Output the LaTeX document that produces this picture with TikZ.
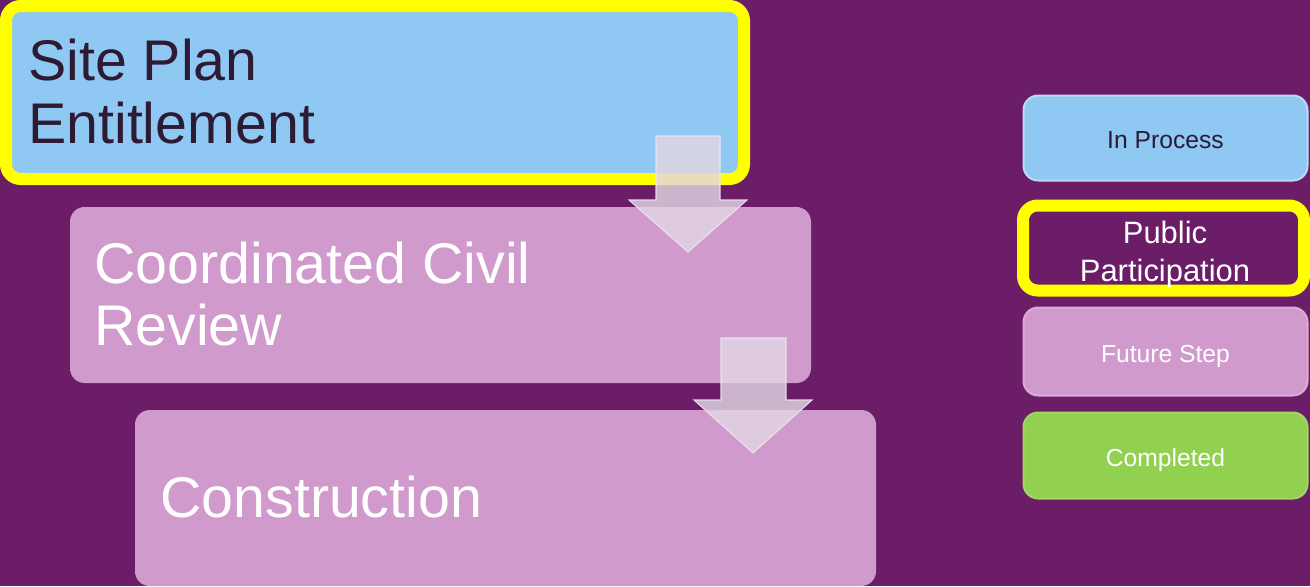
\documentclass[tikz,border=0pt]{standalone}
\usepackage{fontspec}
\setmainfont{Liberation Sans}
\definecolor{bgpurple}{HTML}{6B1D68}
\definecolor{stepblue}{HTML}{90C8F4}
\definecolor{stepblueline}{HTML}{B8DCF7}
\definecolor{steppink}{HTML}{D09ACD}
\definecolor{steppinkline}{HTML}{D9ABD6}
\definecolor{stepgreen}{HTML}{92D050}
\definecolor{stepgreenline}{HTML}{9FD862}
\definecolor{hiyellow}{HTML}{FFFF00}
\definecolor{darktext}{HTML}{2D1A33}
\definecolor{arrowfill}{HTML}{E2D6E4}
\definecolor{arrowline}{HTML}{EEE6EF}
\newcommand\upx{0.75pt}
\begin{document}
\begin{tikzpicture}[x=0.75pt,y=-0.75pt,
  box/.style={inner sep=0pt, outer sep=0pt, rounded corners=11pt},
  bigtext/.style={inner sep=0pt, anchor=base west, font=\fontsize{43}{47}\selectfont},
  legtext/.style={inner sep=0pt, font=\fontsize{18.5}{22}\selectfont},
  blockarrow/.style={fill=arrowfill, fill opacity=0.82, draw=arrowline, draw opacity=0.9, line width=0.8pt}
]
\useasboundingbox (0,0) rectangle (1310,586);
\fill[bgpurple] (0,0) rectangle (1310,586);

% main steps
\node[box, fill=stepblue, draw=hiyellow, line width=9pt,
      minimum width=738*\upx, minimum height=173*\upx] (site) at (375,92.5) {};
\node[box, fill=steppink, minimum width=741*\upx, minimum height=176*\upx] (civil) at (440.5,295) {};
\node[box, fill=steppink, minimum width=741*\upx, minimum height=176*\upx] (constr) at (505.5,498) {};

\node[bigtext, text=darktext] (sitea) at (28,80) {Site Plan};
\node[bigtext, text=darktext] (siteb) at (28,143) {Entitlement};
\node[bigtext, text=white] (civila) at (94,283) {Coordinated Civil};
\node[bigtext, text=white] (civilb) at (94,345) {Review};
\node[bigtext, text=white] (constra) at (160,517) {Construction};

% block arrows between steps
\path[blockarrow] (656,136) -- (720,136) -- (720,200) -- (747,200) -- (688,252)
   -- (629,200) -- (656,200) -- cycle;
\path[blockarrow] (721,338) -- (786,338) -- (786,400) -- (812,400) -- (753,453)
   -- (694,400) -- (721,400) -- cycle;

% legend
\node[box, fill=stepblue, draw=stepblueline, line width=1.5pt,
      minimum width=284*\upx, minimum height=85*\upx] (inproc) at (1165.5,138) {};
\node[legtext, text=darktext] (inproct) at (1165.5,140) {In Process};

\node[box, fill=bgpurple, draw=hiyellow, line width=9pt,
      minimum width=281*\upx, minimum height=85*\upx] (public) at (1163.5,248) {};
\node[legtext, text=white, align=center, font=\fontsize{23.2}{28.5}\selectfont] (publict) at (1165,254) {Public\\Participation};

\node[box, fill=steppink, draw=steppinkline, line width=1.5pt,
      minimum width=284*\upx, minimum height=88*\upx] (future) at (1165.5,351.5) {};
\node[legtext, text=white] (futuret) at (1165.5,356) {Future Step};

\node[box, fill=stepgreen, draw=stepgreenline, line width=1.5pt,
      minimum width=284*\upx, minimum height=86*\upx] (done) at (1165.5,455.5) {};
\node[legtext, text=white] (donet) at (1165.5,460) {Completed};
\end{tikzpicture}
\end{document}
